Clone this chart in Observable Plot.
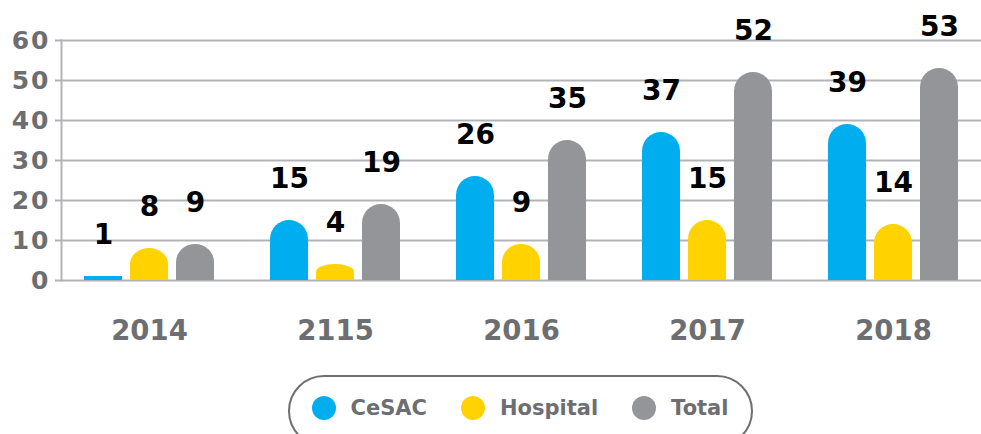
<!DOCTYPE html>
<html><head><meta charset="utf-8">
<script src="https://cdn.jsdelivr.net/npm/d3@7"></script>
<script src="https://cdn.jsdelivr.net/npm/@observablehq/plot@0.6"></script>
<style>
body{margin:0;background:#fff;overflow:hidden;font-family:"DejaVu Sans",sans-serif;}
#chart{position:absolute;left:0;top:0;}
#chart g[aria-label="y-axis tick label"] text{letter-spacing:2px;}
#legend{position:absolute;left:288px;top:375px;width:465px;height:72px;box-sizing:border-box;border:2.5px solid #6d6e71;border-radius:36px;display:flex;align-items:center;padding-left:21.5px;}
#legend .row{display:flex;align-items:center;margin-top:-6px;}
.item{display:flex;align-items:center;margin-right:34px;}
.dot{width:24px;height:24px;border-radius:50%;margin-right:15px;}
.lab{font-size:21px;font-weight:bold;color:#6d6e71;}
</style>
</head><body>
<div id="chart"></div>
<div id="legend"><div class="row" id="legrow"></div></div>
<script>
const years = ["2014","2115","2016","2017","2018"];
const series = ["CeSAC","Hospital","Total"];
const colors = ["#00aeef","#ffd200","#939598"];
const cesac = [1,15,26,37,39];
const hospital = [8,4,9,15,14];
const total = [9,19,35,52,53];
const yTicks = [0,10,20,30,40,50,60];

const values = [cesac, hospital, total];
const rows = [];
series.forEach((s, i) => years.forEach((y, j) => rows.push({year: y, series: s, value: values[i][j]})));

const W = 981, H = 365;
const xRange = [56, 986];
const bw = (xRange[1] - xRange[0]) / years.length;
const barW = 38, gap = 46;
const radiusUnits = 19 / 4; // 19px at 4px per unit
const flatTop = v => v > 2 * radiusUnits ? v - radiusUnits : (v >= 2 ? v / 2 : v);

const marks = [
  Plot.ruleY(yTicks, {stroke: "#b1b3b6", strokeWidth: 2}),
  Plot.frame({anchor: "left", stroke: "#b1b3b6", strokeWidth: 2}),
  Plot.axisY({ticks: yTicks, tickSize: 6, tickPadding: 5, fontSize: 25, fontWeight: "bold", stroke: "#b1b3b6", strokeWidth: 2, fill: "#6d6e71", label: null}),
  Plot.axisX({tickSize: 0, tickPadding: 51, lineAnchor: "middle", fontSize: 27.5, fontWeight: "bold", fill: "#6d6e71", label: null})
];
series.forEach((s, i) => {
  const data = rows.filter(d => d.series === s);
  const off = (i - 1) * gap;
  const insetLeft = bw / 2 + off - barW / 2;
  const insetRight = bw - insetLeft - barW;
  marks.push(Plot.barY(data, {x: "year", y: "value", fill: colors[i], rx: barW / 2, insetLeft, insetRight}));
  marks.push(Plot.barY(data, {x: "year", y1: 0, y2: d => flatTop(d.value), fill: colors[i], insetLeft, insetRight}));
  marks.push(Plot.text(data, {x: "year", y: "value", text: d => String(d.value), dx: off, dy: -41, fontSize: 28, fontWeight: "bold", fill: "#000"}));
});

const chart = Plot.plot({
  width: W, height: H,
  marginLeft: 61, marginRight: 0, marginTop: 40, marginBottom: 85,
  style: {fontFamily: "DejaVu Sans", background: "transparent"},
  x: {type: "band", domain: years, range: xRange, padding: 0},
  y: {domain: [0, 60]},
  marks
});
document.getElementById("chart").appendChild(chart);

const legrow = document.getElementById("legrow");
series.forEach((s, i) => {
  const it = document.createElement("div"); it.className = "item";
  const dot = document.createElement("div"); dot.className = "dot"; dot.style.background = colors[i];
  const lab = document.createElement("span"); lab.className = "lab"; lab.textContent = s;
  it.appendChild(dot); it.appendChild(lab); legrow.appendChild(it);
});
</script>
</body></html>
